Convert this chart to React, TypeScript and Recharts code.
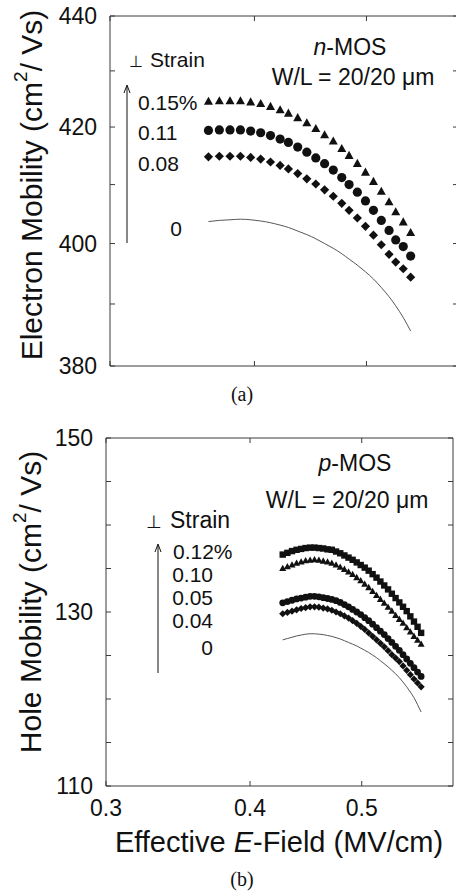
import { ComposedChart, Line, XAxis, YAxis, ReferenceArea } from "recharts";

// (a) n-MOS, electron mobility vs effective field
const topField = [0.365, 0.373, 0.381, 0.389, 0.397, 0.405, 0.413, 0.421, 0.428, 0.436, 0.444, 0.452, 0.46, 0.468, 0.476, 0.483, 0.491, 0.499, 0.507, 0.515, 0.523, 0.53, 0.538, 0.546];
const nStrain015 = [424.5, 424.6, 424.6, 424.6, 424.4, 424.1, 423.6, 423.0, 422.4, 421.6, 420.7, 419.7, 418.6, 417.5, 416.2, 415.0, 413.6, 412.1, 410.5, 408.8, 407.0, 405.3, 403.6, 401.8];
const nStrain011 = [419.4, 419.5, 419.5, 419.5, 419.3, 419.0, 418.5, 417.9, 417.3, 416.5, 415.6, 414.6, 413.6, 412.5, 411.2, 410.0, 408.7, 407.2, 405.6, 403.9, 402.2, 400.6, 399.5, 397.9];
const nStrain008 = [414.8, 414.9, 414.9, 414.9, 414.7, 414.4, 413.9, 413.3, 412.7, 411.9, 411.0, 410.1, 409.1, 408.0, 406.8, 405.6, 404.3, 402.9, 401.4, 399.8, 398.2, 396.9, 395.8, 394.4];
const nStrain0 = [403.7, 403.9, 404.0, 404.1, 404.0, 403.8, 403.5, 403.1, 402.7, 402.1, 401.5, 400.8, 400.0, 399.2, 398.3, 397.4, 396.4, 395.3, 394.1, 392.7, 391.2, 389.7, 387.8, 385.6];

// (b) p-MOS, hole mobility vs effective field
const botField = [0.427, 0.431, 0.435, 0.439, 0.443, 0.447, 0.451, 0.455, 0.459, 0.463, 0.467, 0.471, 0.475, 0.479, 0.483, 0.487, 0.491, 0.495, 0.499, 0.503, 0.507, 0.511, 0.515, 0.519, 0.523, 0.527, 0.531, 0.535, 0.539, 0.543, 0.547, 0.551, 0.555, 0.559, 0.563];
const pStrain012 = [136.6, 136.8, 137.0, 137.15, 137.25, 137.35, 137.4, 137.4, 137.35, 137.3, 137.2, 137.15, 136.95, 136.75, 136.5, 136.25, 136.0, 135.7, 135.4, 135.1, 134.75, 134.35, 133.95, 133.5, 133.05, 132.6, 132.1, 131.6, 131.1, 130.6, 130.1, 129.5, 128.9, 128.3, 127.6];
const pStrain010 = [135.0, 135.2, 135.4, 135.6, 135.75, 135.9, 135.95, 136.0, 135.95, 135.85, 135.75, 135.6, 135.4, 135.15, 134.9, 134.6, 134.3, 133.95, 133.6, 133.2, 132.8, 132.35, 131.9, 131.45, 131.0, 130.55, 130.1, 129.6, 129.15, 128.7, 128.2, 127.7, 127.2, 126.75, 126.3];
const pStrain005 = [131.05, 131.2, 131.35, 131.5, 131.6, 131.7, 131.8, 131.8, 131.75, 131.65, 131.55, 131.45, 131.3, 131.1, 130.85, 130.6, 130.3, 130.0, 129.7, 129.35, 129.0, 128.6, 128.2, 127.8, 127.4, 126.95, 126.5, 126.05, 125.6, 125.1, 124.6, 124.1, 123.6, 123.1, 122.6];
const pStrain004 = [129.8, 129.95, 130.1, 130.25, 130.4, 130.5, 130.6, 130.6, 130.55, 130.45, 130.35, 130.2, 130.0, 129.8, 129.55, 129.3, 129.0, 128.7, 128.35, 128.0, 127.6, 127.2, 126.8, 126.4, 126.0, 125.55, 125.1, 124.7, 124.3, 123.8, 123.3, 122.8, 122.3, 121.85, 121.4];
const pStrain0 = [126.8, 126.95, 127.1, 127.25, 127.35, 127.45, 127.5, 127.5, 127.45, 127.4, 127.3, 127.2, 127.05, 126.9, 126.7, 126.5, 126.3, 126.1, 125.85, 125.6, 125.35, 125.05, 124.75, 124.4, 124.05, 123.7, 123.3, 122.9, 122.45, 121.95, 121.4, 120.8, 120.15, 119.35, 118.5];

const xTicks = [0.3, 0.4, 0.5];
const topYTicks = [380, 390, 400, 410, 420, 430, 440];
const topYLabels = [380, 400, 420, 440];
const botYTicks = [110, 115, 120, 125, 130, 135, 140, 145, 150];
const botYLabels = [110, 130, 150];

const topData = topField.map((x, i) => ({
  x,
  s015: nStrain015[i],
  s011: nStrain011[i],
  s008: nStrain008[i],
  s0: nStrain0[i],
}));

const botData = botField.map((x, i) => ({
  x,
  s012: pStrain012[i],
  s010: pStrain010[i],
  s005: pStrain005[i],
  s004: pStrain004[i],
  s0: pStrain0[i],
}));

const AXIS = "#3a3a3a";
const INK = "#111";
const SANS = "'Liberation Sans', Arial, Helvetica, sans-serif";
const SERIF = "'Liberation Serif', 'Times New Roman', serif";

// ticks point inwards on all four sides, labels only on some values
const yTick = (plotW: number, labelled: number[]) => (props: any) => {
  const { x, y, payload, index } = props;
  const v = payload.value;
  return (
    <g key={`yt-${index}`}>
      <line x1={x} x2={x + 5} y1={y} y2={y} stroke={AXIS} />
      <line x1={x + plotW} x2={x + plotW - 5} y1={y} y2={y} stroke={AXIS} />
      {labelled.includes(v) && (
        <text x={x - 13} y={y} textAnchor="end" dominantBaseline="central" fontFamily={SANS} fontSize={23} fill={INK}>
          {v}
        </text>
      )}
    </g>
  );
};

const xTick = (plotH: number, showLabels: boolean) => (props: any) => {
  const { x, y, payload, index } = props;
  return (
    <g key={`xt-${index}`}>
      <line x1={x} x2={x} y1={y} y2={y - 5} stroke={AXIS} />
      <line x1={x} x2={x} y1={y - plotH} y2={y - plotH + 5} stroke={AXIS} />
      {showLabels && (
        <text x={x} y={y + 30} textAnchor="middle" fontFamily={SANS} fontSize={23} fill={INK}>
          {payload.value}
        </text>
      )}
    </g>
  );
};

const triangle = (w: number) => (p: any) => {
  const { cx, cy, index } = p;
  if (cx == null || cy == null) return <g key={`tri-${index}`} />;
  const h = w * 0.9;
  return (
    <path
      key={`tri-${index}`}
      d={`M${cx},${cy - h * 0.6}L${cx + w / 2},${cy + h * 0.4}L${cx - w / 2},${cy + h * 0.4}Z`}
      fill={INK}
    />
  );
};

const circle = (r: number) => (p: any) => {
  const { cx, cy, index } = p;
  if (cx == null || cy == null) return <g key={`cir-${index}`} />;
  return <circle key={`cir-${index}`} cx={cx} cy={cy} r={r} fill={INK} />;
};

const diamond = (r: number) => (p: any) => {
  const { cx, cy, index } = p;
  if (cx == null || cy == null) return <g key={`dia-${index}`} />;
  return (
    <path key={`dia-${index}`} d={`M${cx},${cy - r}L${cx + r},${cy}L${cx},${cy + r}L${cx - r},${cy}Z`} fill={INK} />
  );
};

const square = (s: number) => (p: any) => {
  const { cx, cy, index } = p;
  if (cx == null || cy == null) return <g key={`sq-${index}`} />;
  return <rect key={`sq-${index}`} x={cx - s / 2} y={cy - s / 2} width={s} height={s} fill={INK} />;
};

function MobilityTop() {
  return (
    <ComposedChart width={460} height={400} data={topData} margin={{ top: 16, right: 2, left: 70, bottom: 4 }}>
      <XAxis
        dataKey="x"
        type="number"
        scale="log"
        domain={[0.3, 0.6]}
        ticks={xTicks}
        allowDataOverflow
        interval={0}
        height={30}
        axisLine={false}
        tickLine={false}
        tickSize={0}
        tickMargin={0}
        tick={xTick(350, false)}
      />
      <YAxis
        type="number"
        scale="log"
        domain={[380, 440]}
        ticks={topYTicks}
        allowDataOverflow
        interval={0}
        width={40}
        axisLine={false}
        tickLine={false}
        tickSize={0}
        tickMargin={0}
        tick={yTick(348, topYLabels)}
      />
      <ReferenceArea x1={0.3} x2={0.6} y1={380} y2={440} fill="none" stroke={AXIS} strokeWidth={1} ifOverflow="visible" />
      <Line dataKey="s0" type="natural" stroke="#444" strokeWidth={0.9} dot={false} activeDot={false} isAnimationActive={false} />
      <Line dataKey="s008" stroke="none" dot={diamond(4.6)} activeDot={false} isAnimationActive={false} />
      <Line dataKey="s011" stroke="none" dot={circle(4.6)} activeDot={false} isAnimationActive={false} />
      <Line dataKey="s015" stroke="none" dot={triangle(9)} activeDot={false} isAnimationActive={false} />
    </ComposedChart>
  );
}

function MobilityBottom() {
  return (
    <ComposedChart width={456} height={493} data={botData} margin={{ top: 38, right: 3, left: 66, bottom: 77 }}>
      <XAxis
        dataKey="x"
        type="number"
        scale="log"
        domain={[0.3, 0.6]}
        ticks={xTicks}
        allowDataOverflow
        interval={0}
        height={30}
        axisLine={false}
        tickLine={false}
        tickSize={0}
        tickMargin={0}
        tick={xTick(348, true)}
      />
      <YAxis
        type="number"
        domain={[110, 150]}
        ticks={botYTicks}
        allowDataOverflow
        interval={0}
        width={40}
        axisLine={false}
        tickLine={false}
        tickSize={0}
        tickMargin={0}
        tick={yTick(347, botYLabels)}
      />
      <ReferenceArea x1={0.3} x2={0.6} y1={110} y2={150} fill="none" stroke={AXIS} strokeWidth={1} ifOverflow="visible" />
      <Line dataKey="s0" type="natural" stroke="#444" strokeWidth={0.9} dot={false} activeDot={false} isAnimationActive={false} />
      <Line dataKey="s004" stroke="none" dot={diamond(3.6)} activeDot={false} isAnimationActive={false} />
      <Line dataKey="s005" stroke="none" dot={circle(3.4)} activeDot={false} isAnimationActive={false} />
      <Line dataKey="s012" stroke="none" dot={square(6.4)} activeDot={false} isAnimationActive={false} />
      <Line dataKey="s010" stroke="none" dot={triangle(7)} activeDot={false} isAnimationActive={false} />
    </ComposedChart>
  );
}

// titles, panel captions and in-plot annotations, in page coordinates
function Annotations() {
  return (
    <svg width={456} height={893} style={{ position: "absolute", left: 0, top: 0, pointerEvents: "none" }}>
      <g fontFamily={SANS} fill={INK}>
        <text transform="translate(31,185) rotate(-90)" textAnchor="middle" dominantBaseline="central" fontSize={30}>
          Electron Mobility (cm<tspan dy={-11} fontSize={19}>2</tspan>
          <tspan dy={11}>/ Vs)</tspan>
        </text>
        <text transform="translate(30,602) rotate(-90)" textAnchor="middle" dominantBaseline="central" fontSize={30}>
          Hole Mobility (cm<tspan dy={-11} fontSize={19}>2</tspan>
          <tspan dy={11}>/ Vs)</tspan>
        </text>
        <text x={279} y={852} textAnchor="middle" fontSize={29}>
          Effective <tspan fontStyle="italic">E</tspan>-Field (MV/cm)
        </text>

        {/* (a) n-MOS */}
        <text x={350} y={55} textAnchor="middle" fontSize={23}>
          <tspan fontStyle="italic">n</tspan>-MOS
        </text>
        <text x={353} y={85} textAnchor="middle" fontSize={23}>
          W/L = 20/20 μm
        </text>
        <text x={129} y={67} fontSize={16}>⊥</text>
        <text x={150} y={67} fontSize={21}>Strain</text>
        <text x={138} y={110} fontSize={21}>0.15%</text>
        <text x={138} y={140} fontSize={21}>0.11</text>
        <text x={138} y={171} fontSize={21}>0.08</text>
        <text x={182} y={236} fontSize={21} textAnchor="end">0</text>

        {/* (b) p-MOS */}
        <text x={355} y={471} textAnchor="middle" fontSize={23}>
          <tspan fontStyle="italic">p</tspan>-MOS
        </text>
        <text x={347} y={508} textAnchor="middle" fontSize={23}>
          W/L = 20/20 μm
        </text>
        <text x={146} y={528} fontSize={18}>⊥</text>
        <text x={170} y={528} fontSize={23}>Strain</text>
        <text x={173} y={559} fontSize={21}>0.12%</text>
        <text x={213} y={582} fontSize={21} textAnchor="end">0.10</text>
        <text x={213} y={605} fontSize={21} textAnchor="end">0.05</text>
        <text x={213} y={628} fontSize={21} textAnchor="end">0.04</text>
        <text x={213} y={655} fontSize={21} textAnchor="end">0</text>
      </g>

      <g stroke={INK} strokeWidth={1} fill="none">
        <line x1={127} y1={243} x2={127} y2={86} />
        <path d="M124,93 L127,85 L130,93" />
        <line x1={158} y1={673} x2={158} y2={545} />
        <path d="M155,552 L158,544 L161,552" />
      </g>

      <g fontFamily={SERIF} fill={INK} fontSize={20} textAnchor="middle">
        <text x={242} y={401}>(a)</text>
        <text x={242} y={886}>(b)</text>
      </g>
    </svg>
  );
}

export default function App() {
  return (
    <div style={{ position: "absolute", left: 0, top: 0, width: 456, height: 893, overflow: "hidden", background: "#fff" }}>
      <div style={{ position: "absolute", left: 0, top: 0 }}>
        <MobilityTop />
      </div>
      <div style={{ position: "absolute", left: 0, top: 400 }}>
        <MobilityBottom />
      </div>
      <Annotations />
    </div>
  );
}
